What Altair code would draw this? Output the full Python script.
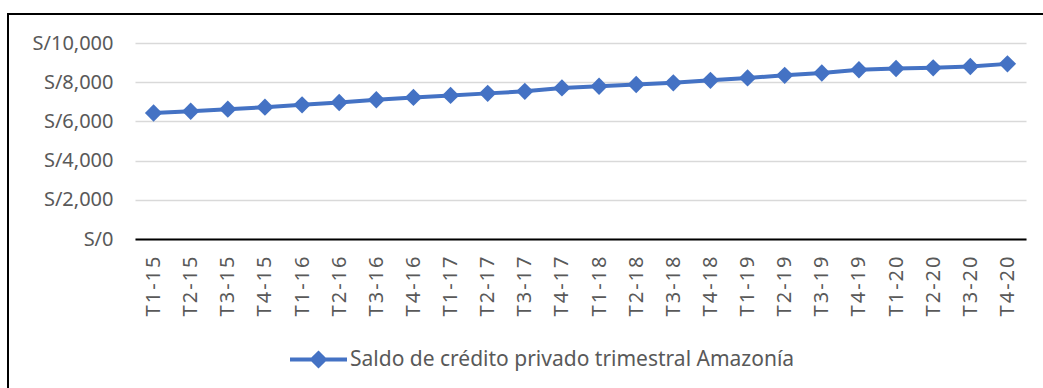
import altair as alt
import pandas as pd

# Quarterly private credit balance, Amazonía region (soles)
quarters = [
    "T1-15", "T2-15", "T3-15", "T4-15",
    "T1-16", "T2-16", "T3-16", "T4-16",
    "T1-17", "T2-17", "T3-17", "T4-17",
    "T1-18", "T2-18", "T3-18", "T4-18",
    "T1-19", "T2-19", "T3-19", "T4-19",
    "T1-20", "T2-20", "T3-20", "T4-20",
]
saldo = [
    6430, 6518, 6622, 6725,
    6845, 6964, 7104, 7223,
    7326, 7430, 7534, 7710,
    7793, 7881, 7969, 8095,
    8220, 8350, 8470, 8635,
    8700, 8735, 8800, 8935,
]
y_ticks = [0, 2000, 4000, 6000, 8000, 10000]
series_name = "Saldo de crédito privado trimestral Amazonía"

df = pd.DataFrame({"trimestre": quarters, "saldo": saldo, "serie": series_name})

BLUE = "#4472C4"
GREY = "#595959"
FONT = "Noto Sans"

# legend glyph: a short line with a diamond in the middle
legend_symbol = "M-1,0L1,0M-0.22,0L0,-0.22L0.22,0L0,0.22Z"

x_enc = alt.X(
    "trimestre:O",
    sort=quarters,
    title=None,
    axis=alt.Axis(
        labelAngle=-90,
        labelAlign="right",
        labelBaseline="middle",
        labelPadding=17,
        labelExpr="join(split(datum.label, ''), '\u200a')",
        ticks=False,
        tickSize=0,
        domain=True,
        domainColor="#000000",
        domainWidth=2,
        grid=False,
        labelOverlap=False,
    ),
)
y_enc = alt.Y(
    "saldo:Q",
    title=None,
    scale=alt.Scale(domain=[0, 10000], nice=False),
    axis=alt.Axis(
        values=y_ticks,
        labelExpr="'S/' + format(datum.value, ',')",
        labelPadding=22,
        ticks=False,
        domain=False,
        grid=True,
        gridColor="#d9d9d9",
        gridWidth=1.5,
        labelOverlap=False,
    ),
)
color_enc = alt.Color(
    "serie:N",
    scale=alt.Scale(range=[BLUE]),
    legend=alt.Legend(
        title=None,
        orient="none",
        legendX=153,
        legendY=286,
        symbolType=legend_symbol,
        symbolSize=3249,
        symbolStrokeWidth=4,
        symbolStrokeColor=BLUE,
        symbolFillColor=BLUE,
        labelOffset=1,
        labelFont=FONT,
        labelFontSize=21,
        labelColor=GREY,
        labelLimit=0,
        padding=0,
    ),
)

base = alt.Chart(df).encode(x=x_enc, y=y_enc, color=color_enc)
line = base.mark_line(strokeWidth=4)
points = base.mark_point(shape="diamond", filled=True, size=300, opacity=1)

# outer chart frame
frame = alt.Chart(df).mark_rect(
    fill="white", fillOpacity=0, stroke="#000000", strokeWidth=2
).encode(
    x=alt.value(-127), x2=alt.value(945), y=alt.value(-29), y2=alt.value(360)
)

chart = (
    alt.layer(frame, line, points)
    .properties(
        width=891,
        height=196,
        autosize=alt.AutoSizeParams(type="none"),
        padding={"left": 135, "top": 43, "right": 17, "bottom": 149},
        background="white",
    )
    .configure_view(stroke=None)
    .configure_axis(labelFont=FONT, labelFontSize=20, labelColor=GREY)
)

chart.save("out.html", embed_options={"renderer": "svg", "actions": False})
